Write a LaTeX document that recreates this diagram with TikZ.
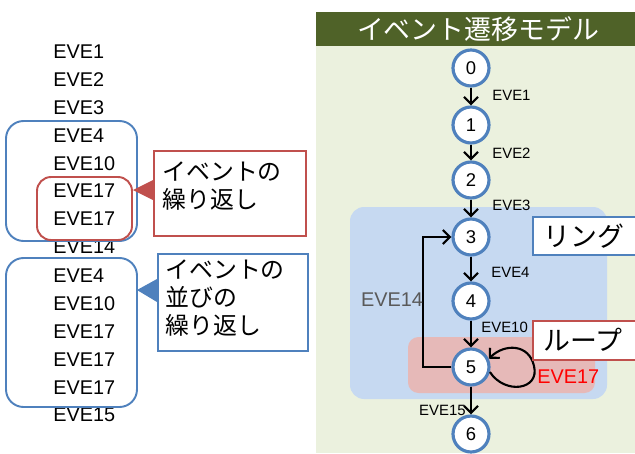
\documentclass[tikz,border=0pt]{standalone}
\usepackage{fontspec}
\setmainfont{Liberation Sans}
\newfontfamily\jp{Noto Sans CJK JP}
\usetikzlibrary{arrows.meta}
\definecolor{titlegreen}{HTML}{4F6228}
\definecolor{panelgreen}{HTML}{EBF1DE}
\definecolor{ringblue}{HTML}{C6D9F1}
\definecolor{loopred}{HTML}{E6B9B8}
\definecolor{bblue}{HTML}{4F81BD}
\definecolor{bred}{HTML}{C0504D}
\definecolor{darkgray}{HTML}{595959}
\begin{document}
\begin{tikzpicture}[x=0.02cm,y=-0.02cm,
  state/.style={circle,draw=bblue,line width=1.8pt,fill=white,minimum size=0.72cm,inner sep=0pt,font=\fontsize{10.5}{12}\selectfont},
  arr/.style={-{Straight Barb[length=4pt,width=8pt,line width=1.2pt]},line width=1.2pt,black},
  elabel/.style={font=\fontsize{8.5}{10}\selectfont,inner sep=0pt},
  evt/.style={font=\fontsize{11.3}{13}\selectfont,anchor=west,inner sep=0pt},
  jptext/.style={font=\jp\fontsize{13.6}{16.2}\selectfont,align=left,anchor=north west,inner sep=0pt},
  grpbox/.style={line width=1.1pt,rounded corners=10pt},
  callbox/.style={line width=1.1pt,fill=white,anchor=north west,inner sep=0pt}
]
\useasboundingbox (0,0) rectangle (635,453);
% right panel
\fill[panelgreen] (316,12) rectangle (635,453);
\fill[titlegreen] (316,12) rectangle (635,46);
\node[text=white,font=\jp\fontsize{15.3}{18}\selectfont,inner sep=0pt] (title) at (478,29) {イベント遷移モデル};
\fill[ringblue,rounded corners=8pt] (350,207) rectangle (607,399);
\fill[loopred,rounded corners=6pt] (408,337) rectangle (595,393);
% states
\node[state] (s0) at (471,68) {0};
\node[state] (s1) at (471,125) {1};
\node[state] (s2) at (471,180) {2};
\node[state] (s3) at (471,237) {3};
\node[state] (s4) at (471,301) {4};
\node[state] (s5) at (471,367) {5};
\node[state] (s6) at (471,434) {6};
\draw[arr] (s0) -- (s1);
\draw[arr] (s1) -- (s2);
\draw[arr] (s2) -- (s3);
\draw[arr] (s3) -- (s4);
\draw[arr] (s4) -- (s5);
\draw[arr] (s5) -- (s6);
\draw[arr] (s5.west) -- ++(-28,0) |- (s3.west);
\draw[arr] (s5.-15) .. controls (505,395) and (540,390) .. (534,366) .. controls (529,344) and (505,343) .. (s5.25);
\node[elabel,anchor=west] (l1) at (492,95) {EVE1};
\node[elabel,anchor=west] (l2) at (492,153) {EVE2};
\node[elabel,anchor=west] (l3) at (492,205) {EVE3};
\node[elabel,anchor=west] (l4) at (491,272) {EVE4};
\node[elabel,anchor=west] (l10) at (481,327) {EVE10};
\node[elabel,anchor=east] (l15) at (466,410) {EVE15};
\node[font=\fontsize{11.3}{13}\selectfont,text=darkgray,inner sep=0pt] (l14) at (392,300) {EVE14};
\node[font=\fontsize{11.3}{13}\selectfont,text=red,anchor=west,inner sep=0pt] (l17) at (537,377) {EVE17};
% ring / loop callouts
\begin{scope}
\clip (316,12) rectangle (635,453);
\draw[bblue,line width=1.1pt,fill=white] (533,217) rectangle (645,255);
\draw[bred,line width=1.1pt,fill=white] (533,321) rectangle (645,360);
\end{scope}
\node[font=\jp\fontsize{15.3}{18}\selectfont,anchor=west,inner sep=0pt] (ring) at (543,236) {リング};
\node[font=\jp\fontsize{15.3}{18}\selectfont,anchor=west,inner sep=0pt] (loop) at (543,340) {ループ};
% left list
\foreach \t/\y [count=\i] in {EVE1/52,EVE2/80,EVE3/108,EVE4/136,EVE10/164,EVE17/191,EVE17/219,EVE14/247,EVE4/276,EVE10/304,EVE17/332,EVE17/360,EVE17/388,EVE15/415}
  \node[evt] (e\i) at (53,\y) {\t};
\draw[bblue,grpbox] (6,121) rectangle (137,241);
\draw[bred,grpbox,rounded corners=8pt] (37,177) rectangle (132,240);
\draw[bblue,grpbox] (6,258) rectangle (137,407);
% callouts
\node[callbox,draw=bred,minimum width=3.04cm,minimum height=1.7cm] (c1) at (153,150) {};
\fill[bred] (153,180) -- (133,190) -- (153,200) -- cycle;
\node[jptext] (c1t) at (162,161) {イベントの\\繰り返し};
\node[callbox,draw=bblue,minimum width=3.0cm,minimum height=1.94cm] (c2) at (157,253) {};
\fill[bblue] (157,279) -- (137,290) -- (157,302) -- cycle;
\node[jptext] (c2t) at (165,259) {イベントの\\並びの\\繰り返し};
\end{tikzpicture}
\end{document}
